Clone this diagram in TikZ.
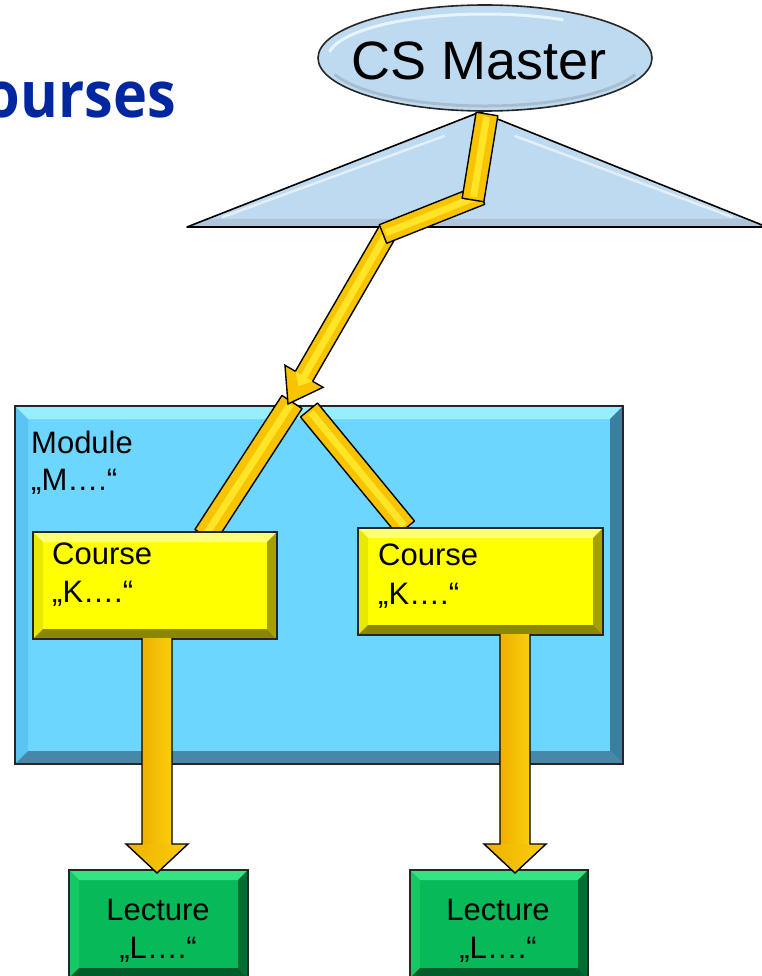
\documentclass[tikz,border=0pt]{standalone}
\usepackage{fontspec}
\setmainfont{Liberation Sans}
\newfontfamily\titlefont{Open Sans}
\usetikzlibrary{calc,shapes.geometric}

\definecolor{titleblue}{RGB}{0,38,160}
\definecolor{ellfill}{RGB}{190,218,240}
\definecolor{ellhi}{RGB}{232,244,252}
\definecolor{elldark}{RGB}{168,190,208}
\definecolor{modmain}{RGB}{108,214,255}
\definecolor{modtop}{RGB}{150,238,255}
\definecolor{modleft}{RGB}{92,196,240}
\definecolor{modright}{RGB}{62,125,158}
\definecolor{modbottom}{RGB}{70,135,170}
\definecolor{cmain}{RGB}{255,255,0}
\definecolor{ctop}{RGB}{255,255,120}
\definecolor{cleft}{RGB}{232,232,0}
\definecolor{cright}{RGB}{165,160,0}
\definecolor{cbottom}{RGB}{140,135,0}
\definecolor{lmain}{RGB}{8,185,90}
\definecolor{ltop}{RGB}{50,228,130}
\definecolor{lleft}{RGB}{22,200,100}
\definecolor{lright}{RGB}{0,110,50}
\definecolor{lbottom}{RGB}{0,92,42}
\definecolor{gold}{RGB}{248,196,0}
\definecolor{goldlight}{RGB}{255,228,40}
\definecolor{golddark}{RGB}{236,172,0}
\definecolor{goldshadeL}{RGB}{238,176,0}
\definecolor{goldshadeM}{RGB}{255,236,60}
\definecolor{goldshadeR}{RGB}{250,206,10}

\tikzset{
  plainbox/.style={inner sep=0pt, outer sep=0pt},
  boxtext/.style={inner sep=0pt, font=\fontsize{31}{37}\selectfont},
  rim/.style={draw=black!85, line width=1.6pt},
}

% bevels for a box node: #1 name, #2 bevel size, #3 top, #4 left, #5 right, #6 bottom
\newcommand\bevel[6]{%
  \fill[#3] (#1.north west) -- (#1.north east) -- ($(#1.north east)+(-#2,#2)$) -- ($(#1.north west)+(#2,#2)$) -- cycle;
  \fill[#4] (#1.north west) -- ($(#1.north west)+(#2,#2)$) -- ($(#1.south west)+(#2,-#2)$) -- (#1.south west) -- cycle;
  \fill[#5] (#1.north east) -- (#1.south east) -- ($(#1.south east)+(-#2,-#2)$) -- ($(#1.north east)+(-#2,#2)$) -- cycle;
  \fill[#6] (#1.south west) -- (#1.south east) -- ($(#1.south east)+(-#2,-#2)$) -- ($(#1.south west)+(#2,-#2)$) -- cycle;
  \draw[rim] (#1.north west) rectangle (#1.south east);
}

% golden bar from #1 to #2, half width #3
\newcommand\ybar[3]{%
  \filldraw[fill=gold, draw=black, line width=1.4pt, line join=round]
    ($(#1)!#3!90:(#2)$) -- ($(#2)!#3!-90:(#1)$) -- ($(#2)!#3!90:(#1)$) -- ($(#1)!#3!-90:(#2)$) -- cycle;
  \draw[goldlight, line width=7pt, shorten <=3pt, shorten >=3pt] (#1) -- (#2);
}

% golden arrow from #1 to tip #2: shaft half width #3, head half width #4, head length #5
\newcommand\yarrow[5]{%
  \coordinate (hd) at ($(#2)!#5!(#1)$);
  \filldraw[fill=gold, draw=black, line width=1.4pt, line join=miter]
    ($(#1)!#3!90:(#2)$) -- ($(hd)!#3!90:(#2)$) -- ($(hd)!#4!90:(#2)$) -- (#2)
    -- ($(hd)!#4!-90:(#2)$) -- ($(hd)!#3!-90:(#2)$) -- ($(#1)!#3!-90:(#2)$) -- cycle;
  \draw[goldlight, line width=7pt, shorten <=3pt] (#1) -- (hd);
  \fill[goldlight] ($(hd)!0.35!(#2)$) -- ($(hd)!#3!90:(#2)$) -- ($(hd)!#3!-90:(#2)$) -- cycle;
}

% vertical golden arrow with shading
\newcommand\varrow[2]{%
  \coordinate (hd) at ($(#2)+(0,-29)$);
  \shade[left color=goldshadeL, middle color=goldshadeM, right color=goldshadeR]
    ($(#1)+(-15,0)$) rectangle ($(hd)+(15,0)$);
  \shade[left color=goldshadeL, middle color=goldshadeM, right color=goldshadeR]
    ($(hd)+(-31,0)$) -- (#2) -- ($(hd)+(31,0)$) -- cycle;
  \draw[black, line width=1.4pt, line join=miter]
    ($(#1)+(-15,0)$) -- ($(hd)+(-15,0)$) -- ($(hd)+(-31,0)$) -- (#2)
    -- ($(hd)+(31,0)$) -- ($(hd)+(15,0)$) -- ($(#1)+(15,0)$);
}

\begin{document}
\begin{tikzpicture}[x=1pt,y=-1pt]
\useasboundingbox (0,0) rectangle (761,976);
\fill[white] (0,0) rectangle (761,976);

% title
\node[anchor=base east, inner sep=0pt, text=titleblue, xscale=0.9,
      font=\titlefont\bfseries\fontsize{64}{70}\selectfont] (title) at (176,118) {ourses};

% triangle
\coordinate (tapex) at (480,112);
\coordinate (tleft) at (187,227);
\coordinate (tright) at (767,227);
\fill[ellfill] (tapex) -- (tleft) -- (tright) -- cycle;
\fill[elldark!70!ellfill] (205,219) -- (749,219) -- (tright) -- (tleft) -- cycle;
\draw[white!55!ellfill, line width=2.5pt] ($(tapex)!0.12!(tleft)+(0,10)$) -- ($(tapex)!0.88!(tleft)+(0,4)$);
\draw[white!55!ellfill, line width=2.5pt] ($(tapex)!0.12!(tright)+(0,10)$) -- ($(tapex)!0.88!(tright)+(0,4)$);
\draw[black, line width=1.6pt, line join=round] (tapex) -- (tleft) -- (tright) -- cycle;

% CS Master ellipse
\node[ellipse, plainbox, minimum width=334pt, minimum height=106pt, fill=ellfill] (cs) at (485,58) {};
\draw[ellhi, line width=3pt] (485,58) ++(188:157 and 44) arc[start angle=188, end angle=300, x radius=157, y radius=44];
\draw[elldark, line width=3pt] (485,58) ++(20:160 and 48) arc[start angle=20, end angle=160, x radius=160, y radius=48];
\draw[black!85, line width=1.6pt] (cs.center) ellipse[x radius=167, y radius=53];
\node[inner sep=0pt, anchor=base, font=\fontsize{54}{60}\selectfont] (cstext) at (479,80) {CS Master};

% Module box
\node[plainbox, minimum width=608pt, minimum height=358pt, fill=modmain] (module) at (319,585) {};
\bevel{module}{13}{modtop}{modleft}{modright}{modbottom}
\node[boxtext, anchor=base west] (modA) at (31,453) {Module};
\node[boxtext, anchor=base west] (modB) at (31,490) {„M….“};

% connectors
\coordinate (z0) at ($(cs.south)+(2,3)$);
\coordinate (z1) at (473,200);
\coordinate (z2) at (481,195);
\coordinate (z3) at (383,234);
\coordinate (z4) at (388,231);
\coordinate (tip) at (288,404);
\coordinate (jl) at (292,402);
\coordinate (jr) at (309,410);
\coordinate (c1top) at (205,536);
\coordinate (c2top) at (406,528);

\ybar{jl}{c1top}{12pt}
\ybar{jr}{c2top}{11pt}
\yarrow{z4}{tip}{10pt}{22pt}{32pt}
\ybar{z2}{z3}{10pt}
\ybar{z0}{z1}{11pt}

% Course boxes
\node[plainbox, minimum width=244pt, minimum height=107pt, fill=cmain] (course1) at (155,585.5) {};
\bevel{course1}{10}{ctop}{cleft}{cright}{cbottom}
\node[boxtext, anchor=base west] (c1A) at (52,564) {Course};
\node[boxtext, anchor=base west] (c1B) at (52,602) {„K….“};

\node[plainbox, minimum width=245pt, minimum height=107pt, fill=cmain] (course2) at (480.5,581.5) {};
\bevel{course2}{10}{ctop}{cleft}{cright}{cbottom}
\node[boxtext, anchor=base west] (c2A) at (378,565) {Course};
\node[boxtext, anchor=base west] (c2B) at (378,604) {„K….“};

% Lecture boxes
\node[plainbox, minimum width=179pt, minimum height=108pt, fill=lmain] (lec1) at (158.5,924) {};
\bevel{lec1}{10}{ltop}{lleft}{lright}{lbottom}
\node[boxtext, anchor=base] (l1A) at (158,920) {Lecture};
\node[boxtext, anchor=base] (l1B) at (158,958) {„L….“};

\node[plainbox, minimum width=178pt, minimum height=108pt, fill=lmain] (lec2) at (499,924) {};
\bevel{lec2}{10}{ltop}{lleft}{lright}{lbottom}
\node[boxtext, anchor=base] (l2A) at (498,920) {Lecture};
\node[boxtext, anchor=base] (l2B) at (498,958) {„L….“};

% vertical arrows
\coordinate (vl0) at ($(course1.south)+(2,-1)$);
\coordinate (vl1) at ($(lec1.north)+(-1.5,3)$);
\coordinate (vr0) at (515,634);
\coordinate (vr1) at ($(lec2.north)+(16,3)$);
\varrow{vl0}{vl1}
\varrow{vr0}{vr1}
\end{tikzpicture}
\end{document}
